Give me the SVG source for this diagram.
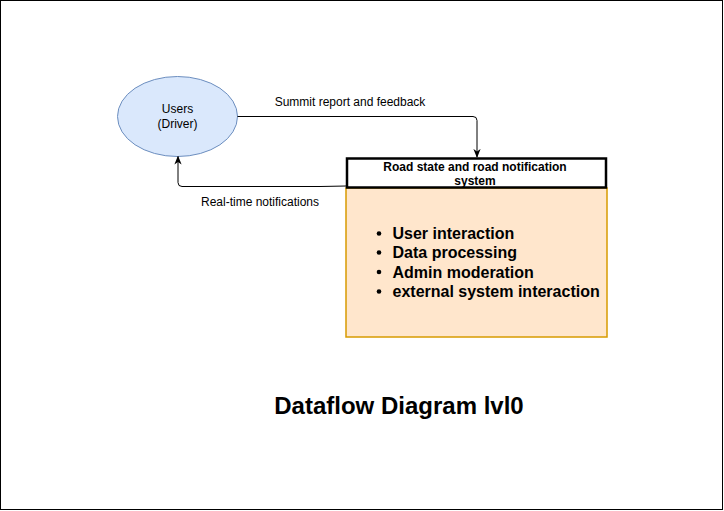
<svg xmlns="http://www.w3.org/2000/svg" width="724" height="511" viewBox="0 0 724 511">
<defs>
<style>
text{font-family:"Liberation Sans",Arial,sans-serif;fill:#000}
.lbl{font-size:12px;text-anchor:middle}
.hdr{font-size:12px;font-weight:bold;text-anchor:middle}
.item{font-size:16px;font-weight:bold}
.edge{fill:none;stroke:#000;stroke-width:1}
</style>
<marker id="arr" viewBox="0 0 10 10" refX="9" refY="5" markerWidth="9" markerHeight="9" orient="auto" markerUnits="userSpaceOnUse">
<path d="M0,1 L10,5 L0,9 L3,5 Z" fill="#000"/>
</marker>
</defs>
<rect x="0.5" y="0.5" width="722" height="509" fill="#fff" stroke="#000" stroke-width="1"/>
<g id="users">
<ellipse cx="177.5" cy="116.5" rx="60" ry="40" fill="#dae8fc" stroke="#6c8ebf"/>
<text class="lbl" x="177.5" y="113">Users</text>
<text class="lbl" x="177.5" y="128">(Driver)</text>
</g>
<g id="system">
<rect x="346" y="188" width="261" height="149" fill="#ffe6cc" stroke="#d79b00" stroke-width="1.5"/>
<rect x="347" y="158.5" width="259" height="29" fill="#fff" stroke="#000" stroke-width="2.5"/>
<text class="hdr" x="475" y="171">Road state and road notification</text>
<text class="hdr" x="475" y="185">system</text>
<g class="item">
<circle cx="379" cy="233.5" r="2.3"/>
<circle cx="379" cy="252.5" r="2.3"/>
<circle cx="379" cy="272" r="2.3"/>
<circle cx="379" cy="291.5" r="2.3"/>
<text class="item" x="392.5" y="239">User interaction</text>
<text class="item" x="392.5" y="258">Data processing</text>
<text class="item" x="392.5" y="277.5">Admin moderation</text>
<text class="item" x="392.5" y="296.5">external system interaction</text>
</g>
</g>
<g id="connectors">
<path class="edge" d="M237.5,116.5 H473 Q477,116.5 477,120.5 V157" marker-end="url(#arr)"/>
<text class="lbl" x="350" y="106">Summit report and feedback</text>
<path class="edge" d="M346,186 L320,186.5 H182 Q178,186.5 178,182.5 V156.5" marker-end="url(#arr)"/>
<text class="lbl" x="260" y="206">Real-time notifications</text>
</g>
<g id="title">
<text x="399" y="414" style="font-size:24px;font-weight:bold;text-anchor:middle">Dataflow Diagram lvl0</text>
</g>
</svg>
